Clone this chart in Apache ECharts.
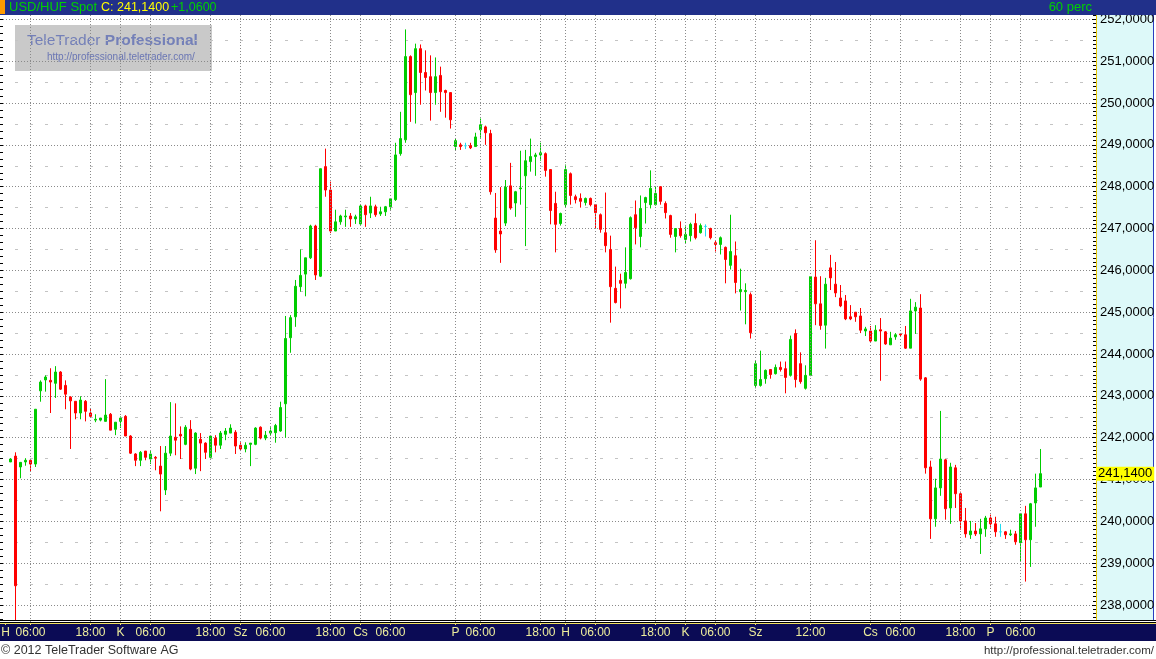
<!DOCTYPE html>
<html>
<head>
<meta charset="utf-8">
<script src="https://cdn.jsdelivr.net/npm/echarts@6/dist/echarts.min.js"></script>
<style>
html,body{margin:0;padding:0;background:#fff;}
#chart{width:1156px;height:659px;}
</style>
</head>
<body>
<div id="chart"></div>
<script>
// ---- data (hourly candles, USD/HUF) ----
const openVals = [
241.42,241.56,241.30,241.42,241.46,241.37,243.12,243.38,243.37,243.30,
243.57,243.25,242.97,242.87,242.59,242.87,242.59,242.42,242.42,242.39,
242.56,242.20,242.39,242.51,242.04,241.61,241.46,241.68,241.49,241.53,
241.32,240.75,241.63,242.01,242.08,241.84,242.20,241.27,241.96,241.87,
241.53,241.99,241.82,242.08,242.11,242.13,241.82,241.73,241.84,241.84,
242.25,241.99,242.11,242.12,242.16,242.81,244.39,244.89,245.61,245.91,
246.30,247.06,245.86,248.48,247.92,246.94,247.16,247.28,247.30,247.23,
247.11,247.54,247.37,247.52,247.35,247.40,247.52,247.69,248.79,249.12,
251.11,250.25,251.30,250.73,250.63,250.25,250.66,250.30,250.25,248.96,
249.00,248.98,248.98,248.96,249.36,249.43,249.27,247.25,246.94,247.13,
248.02,247.61,247.95,248.26,248.60,248.72,248.76,248.79,248.41,247.60,
247.12,247.57,248.31,247.76,247.72,247.62,247.72,247.57,247.33,246.90,
246.50,245.57,245.76,245.69,245.80,247.33,246.81,247.62,247.57,247.57,
248.00,247.60,247.31,246.81,247.00,246.74,246.83,247.12,246.90,247.05,
247.00,246.66,246.62,246.55,246.12,246.35,245.49,245.49,245.42,243.25,
243.25,243.41,243.63,243.53,243.68,243.65,243.49,244.49,243.77,243.18,
243.49,245.84,245.20,244.69,246.06,245.67,245.34,245.27,244.89,245.00,
244.91,244.55,244.55,244.31,244.58,244.53,244.22,244.41,244.48,244.46,
244.14,245.03,245.10,243.43,241.30,240.06,240.80,241.47,240.32,241.28,
240.66,240.01,239.68,239.77,239.70,239.82,240.08,239.94,239.75,239.75,
239.68,239.70,239.49,240.18,239.56,240.44,240.82
];
const closeVals = [
241.49,238.46,241.41,241.46,241.37,242.68,243.33,243.45,243.33,243.57,
243.16,243.04,242.88,242.59,242.90,242.63,242.51,242.44,242.47,242.54,
242.18,242.37,242.47,242.04,241.63,241.46,241.65,241.53,241.61,241.51,
241.13,241.63,242.04,241.94,242.04,242.25,241.25,242.11,241.87,241.65,
242.04,241.82,242.11,242.16,242.23,241.80,241.73,241.82,241.87,242.23,
241.99,242.06,242.16,242.29,242.72,244.37,244.87,245.62,245.88,246.30,
247.06,245.89,248.43,247.92,246.94,247.16,247.30,247.30,247.23,247.28,
247.54,247.33,247.54,247.33,247.40,247.52,247.71,248.76,249.15,251.11,
250.20,251.30,250.73,250.61,250.25,250.63,250.27,250.25,249.60,249.10,
248.96,248.98,248.93,249.19,249.48,249.29,247.88,246.49,246.87,247.99,
247.49,247.88,247.97,248.62,248.72,248.76,248.81,248.39,247.43,247.10,
247.36,248.41,247.79,247.69,247.65,247.72,247.57,247.38,246.98,246.59,
245.61,245.23,245.69,245.95,247.26,247.02,247.48,247.74,247.96,247.84,
247.65,247.38,246.86,247.00,246.83,246.86,247.10,246.78,247.07,247.05,
246.78,246.62,246.78,246.26,246.45,245.71,245.54,245.52,244.51,243.77,
243.39,243.61,243.51,243.68,243.63,243.44,244.35,243.39,243.34,243.49,
245.85,245.20,244.68,245.67,245.82,245.46,245.15,244.84,244.84,244.89,
244.57,244.60,244.31,244.57,244.55,244.24,244.38,244.46,244.46,244.14,
245.03,245.12,243.40,241.28,240.06,240.80,241.49,240.30,241.30,240.66,
240.01,239.70,239.77,239.70,239.82,240.08,239.94,239.75,239.75,239.68,
239.70,239.51,240.18,239.56,240.42,240.80,241.14
];
const lowVals = [
241.42,237.55,241.03,241.33,241.20,241.30,242.86,243.10,242.59,242.95,
243.14,242.68,241.73,242.44,242.44,242.39,242.49,242.37,242.39,242.39,
242.18,242.06,242.23,242.04,241.61,241.32,241.32,241.46,241.37,241.22,
240.24,240.63,241.56,241.58,241.49,241.82,241.22,241.13,241.20,241.49,
241.51,241.65,241.73,241.94,242.11,241.61,241.68,241.65,241.32,241.82,
241.96,241.94,242.04,241.88,242.14,242.00,244.03,244.65,245.49,245.38,
246.27,245.77,245.84,247.76,246.89,246.94,247.09,247.04,247.04,247.11,
247.09,247.04,247.25,247.28,247.30,247.30,247.45,247.66,248.74,249.05,
249.55,249.51,249.96,250.30,249.58,249.96,249.79,249.65,249.39,248.86,
248.88,248.90,248.90,248.96,249.17,249.00,247.81,246.42,246.18,247.06,
247.45,247.28,247.57,246.58,248.36,248.26,248.62,248.24,247.10,246.43,
247.07,247.50,247.57,247.60,247.50,247.55,247.53,247.00,246.90,246.43,
244.75,245.21,245.09,245.57,245.78,246.62,246.55,247.12,247.48,247.55,
247.57,247.24,246.78,246.43,246.78,246.64,246.69,246.74,246.88,246.81,
246.74,246.45,246.38,245.69,246.02,245.45,245.04,244.71,244.37,243.18,
243.22,243.29,243.41,243.51,243.58,243.06,243.46,243.20,243.29,243.15,
243.47,244.69,244.58,244.13,245.53,245.36,245.12,244.81,244.81,244.77,
244.50,244.43,244.29,244.31,243.36,244.22,244.22,244.34,244.41,244.12,
244.14,244.48,243.36,241.14,239.58,239.87,240.61,240.04,239.94,240.32,
239.80,239.61,239.58,239.65,239.22,239.63,239.85,239.63,239.63,239.58,
239.65,239.44,239.03,238.56,238.91,239.87,240.82
];
const highVals = [
241.51,241.65,241.41,241.51,241.46,242.68,243.37,243.49,243.66,243.71,
243.59,243.37,242.99,242.87,242.99,242.90,242.71,242.56,242.47,243.40,
242.59,242.37,242.51,242.54,242.06,241.63,241.68,241.68,241.68,241.56,
241.80,241.80,242.85,242.82,242.27,242.30,242.42,242.13,242.11,241.89,
242.04,242.06,242.16,242.23,242.32,242.18,241.89,241.89,241.87,242.25,
242.27,242.16,242.25,242.33,242.86,244.91,244.93,245.77,246.50,246.30,
247.09,247.09,248.43,248.91,248.12,247.45,247.33,247.45,247.37,247.33,
247.57,247.57,247.76,247.57,247.52,247.54,247.71,249.05,249.79,251.76,
251.14,251.42,251.40,251.26,251.14,251.09,250.87,250.32,250.25,249.15,
249.05,249.05,249.05,249.29,249.63,249.46,249.36,247.85,247.99,248.16,
248.57,247.90,248.86,248.88,249.15,248.81,249.05,248.82,248.41,247.88,
247.38,248.53,248.34,247.81,247.84,247.74,247.74,247.57,247.36,247.86,
246.83,246.09,245.92,246.55,247.29,247.67,247.79,247.76,248.39,248.00,
248.00,247.65,247.33,247.00,247.17,247.05,247.14,247.36,247.12,247.10,
247.02,246.71,246.81,246.57,247.33,246.69,246.04,245.69,245.47,243.84,
244.08,243.63,243.63,243.75,243.82,243.82,244.44,244.59,244.04,243.73,
245.85,246.72,245.86,245.82,246.37,246.20,245.65,245.41,245.17,245.00,
245.10,244.65,244.67,244.69,244.86,244.55,244.53,244.50,244.50,244.67,
245.32,245.24,245.43,243.45,241.45,241.02,242.64,241.49,241.40,241.35,
240.71,240.32,240.01,239.96,240.06,240.13,240.16,240.11,239.94,239.77,
239.80,239.77,240.18,240.37,240.44,241.14,241.73
];
// x-axis tick labels: candle index -> label ("H" sits on the leading empty slot, index -1)
const tickIndex = [-1, 4, 16, 22, 28, 40, 46, 52, 64, 70, 76, 89, 94, 106, 111, 117, 129, 135, 141, 149, 160, 172, 178, 190, 196, 202];
const tickText  = ['H','06:00','18:00','K','06:00','18:00','Sz','06:00','18:00','Cs','06:00','P','06:00','18:00','H','06:00','18:00','K','06:00','Sz','12:00','Cs','06:00','18:00','P','06:00'];
const yTicks = [238,239,240,241,242,243,244,245,246,247,248,249,250,251,252];
const headerTitle = 'USD/HUF Spot';
const headerClose = 'C: 241,1400';
const headerChange = '+1,0600';
const headerPeriod = '60 perc';

// ---- build ----
const LEAD = 1, TRAIL = 10;
const nCandles = openVals.length;
const nCat = LEAD + nCandles + TRAIL;
const categories = [];
for (let j = 0; j < nCat; j++) categories.push('');
tickIndex.forEach((k, i) => { categories[k + LEAD] = tickText[i]; });

const UP = '#00cc00', DOWN = '#ff0000', DOJI = '#22dcf0';
const candleData = [];
for (let k = 0; k < nCandles; k++) {
  const item = { value: [k + LEAD, openVals[k], closeVals[k], lowVals[k], highVals[k]] };
  if (openVals[k] === closeVals[k]) {
    item.itemStyle = { color: DOJI, color0: DOJI, borderColor: DOJI, borderColor0: DOJI, borderColorDoji: DOJI };
  }
  candleData.push(item);
}
const lastClose = closeVals[nCandles - 1];
const fmt = v => v.toFixed(4).replace('.', ',');

const FONT = "'Liberation Sans', Arial, sans-serif";
const V_PX = 41.83;                  // px per unit
const Y238 = 605;                    // pixel of 238
const gTop = Y238 - (253 - 238) * V_PX;
const gBottom = 659 - (Y238 + (238 - 237) * V_PX);

const chart = echarts.init(document.getElementById('chart'), null, { renderer: 'canvas' });
chart.setOption({
  animation: false,
  backgroundColor: '#ffffff',
  grid: [
    { left: 3, right: 63, top: gTop, bottom: gBottom, outerBoundsMode: 'none', containLabel: false },
    { left: 5.5, right: 65.5, top: 15, bottom: 36, outerBoundsMode: 'none', containLabel: false }
  ],
  xAxis: [
    { type: 'category', gridIndex: 0, data: categories, boundaryGap: true, show: false },
    {
      type: 'category', gridIndex: 1, data: categories, boundaryGap: false, z: 200,
      axisLine: { show: false },
      axisTick: { show: true, length: 2, interval: (i, v) => v !== '', lineStyle: { color: '#f0e070' } },
      axisLabel: { show: true, interval: (i, v) => v !== '', color: '#eeee9c', fontFamily: FONT, fontSize: 12, margin: 4 },
      splitLine: { show: true, interval: (i, v) => v !== '' && i > 0, lineStyle: { color: '#8a8a8a', type: [1, 2], width: 1 } }
    }
  ],
  yAxis: [
    {
      type: 'value', gridIndex: 0, position: 'right', min: 237, max: 253, interval: 1, offset: 3,
      axisLine: { show: true, lineStyle: { color: '#e8c400', width: 1 } },
      axisTick: { show: true, inside: true, length: 4, lineStyle: { color: '#000' } },
      minorTick: { show: true, splitNumber: 10, length: 3, lineStyle: { color: '#000' } },
      axisLabel: { show: true, color: '#000', fontFamily: FONT, fontSize: 13, margin: 4,
        padding: [3, 0, 0, 0],
        formatter: v => (yTicks.indexOf(v) >= 0 ? fmt(v) : '') },
      splitLine: { show: true, lineStyle: { color: '#8a8a8a', type: [1, 2], width: 1 } }
    },
    {
      type: 'value', gridIndex: 0, position: 'left', min: 237, max: 253, interval: 1,
      axisLine: { show: false },
      axisTick: { show: true, length: 4, lineStyle: { color: '#000' } },
      minorTick: { show: true, splitNumber: 6, length: 3, lineStyle: { color: '#000' } },
      axisLabel: { show: false },
      splitLine: { show: false }
    },
    {
      type: 'value', gridIndex: 0, position: 'right', min: 237, max: 253, interval: 1,
      axisLine: { show: false }, axisTick: { show: false }, axisLabel: { show: false },
      splitLine: { show: false },
      minorTick: { show: false, splitNumber: 2 },
      minorSplitLine: { show: true, lineStyle: { color: '#c4c4c4', type: [3, 12], dashOffset: 3, width: 1 } }
    },
    { type: 'value', gridIndex: 1, show: false }
  ],
  series: [{
    type: 'candlestick',
    xAxisIndex: 0, yAxisIndex: 0,
    barWidth: 3,
    encode: { x: 0, y: [1, 2, 3, 4] },
    data: candleData,
    itemStyle: { color: UP, color0: DOWN, borderColor: UP, borderColor0: DOWN, borderColorDoji: DOJI, borderWidth: 1 },
    markLine: {
      silent: true, symbol: 'none',
      lineStyle: { color: 'rgba(0,0,0,0)', width: 0 },
      label: { show: true, position: 'end', distance: 3, formatter: () => fmt(lastClose),
        backgroundColor: '#ffff00', color: '#000', fontFamily: FONT, fontSize: 13, padding: [1, 2, 0, 2] },
      data: [{ yAxis: lastClose }]
    }
  }],
  graphic: { elements: [
    // right axis panel
    { type: 'rect', z: -1, shape: { x: 1096, y: 15, width: 57, height: 605 }, style: { fill: '#ddf9f9' } },
    { type: 'line', z: -1, shape: { x1: 1153.5, y1: 15, x2: 1153.5, y2: 620 }, style: { stroke: '#2a3cc0', lineWidth: 1 } },
    // watermark logo
    { type: 'rect', z: -1, shape: { x: 15, y: 25, width: 197, height: 46 }, style: { fill: '#c9c9c9' } },
    { type: 'text', z: -1, x: 27, y: 41, style: {
        text: '{a|TeleTrader} {b|Professional}', verticalAlign: 'middle', textVerticalAlign: 'middle',
        rich: { a: { fontFamily: FONT, fontSize: 15.5, color: '#7480b8', fill: '#7480b8' },
                b: { fontFamily: FONT, fontSize: 15.5, fontWeight: 'bold', color: '#7480b8', fill: '#7480b8' } },
        font: '15.5px ' + FONT, fill: '#7480b8' } },
    { type: 'text', z: -1, x: 47, y: 57.5, style: { text: 'http://professional.teletrader.com/', font: '10px ' + FONT,
        fill: '#6a76b4', verticalAlign: 'middle', textVerticalAlign: 'middle' } },
    // top bar
    { type: 'rect', z: 100, shape: { x: 0, y: 0, width: 1156, height: 15 }, style: { fill: '#21308a' } },
    { type: 'rect', z: 101, shape: { x: 0, y: 0, width: 5, height: 14 }, style: { fill: '#ff9a00' } },
    { type: 'text', z: 101, x: 9, y: 7.5, style: { text: headerTitle, font: '13px ' + FONT, fill: '#00d000', verticalAlign: 'middle', textVerticalAlign: 'middle' } },
    { type: 'text', z: 101, x: 101, y: 7.5, style: { text: headerClose, font: '12.5px ' + FONT, fill: '#ffff00', verticalAlign: 'middle', textVerticalAlign: 'middle' } },
    { type: 'text', z: 101, x: 171, y: 7.5, style: { text: headerChange, font: '12.5px ' + FONT, fill: '#00d000', verticalAlign: 'middle', textVerticalAlign: 'middle' } },
    { type: 'text', z: 101, x: 1092, y: 7.5, style: { text: headerPeriod, font: '13px ' + FONT, fill: '#00d000', align: 'right', textAlign: 'right', verticalAlign: 'middle', textVerticalAlign: 'middle' } },
    // bottom lines and bar
    { type: 'rect', z: 100, shape: { x: 0, y: 620, width: 1156, height: 4 }, style: { fill: '#ffffff' } },
    { type: 'line', z: 101, shape: { x1: 0, y1: 620.5, x2: 1156, y2: 620.5 }, style: { stroke: '#000', lineWidth: 1 } },
    { type: 'line', z: 101, shape: { x1: 0, y1: 622.5, x2: 1156, y2: 622.5 }, style: { stroke: '#000', lineWidth: 1 } },
    { type: 'line', z: 101, shape: { x1: 0, y1: 623.5, x2: 1156, y2: 623.5 }, style: { stroke: '#f0e060', lineWidth: 1 } },
    { type: 'rect', z: 100, shape: { x: 0, y: 624, width: 1156, height: 17 }, style: { fill: '#0b0b55' } },
    // footer
    { type: 'rect', z: 100, shape: { x: 0, y: 641, width: 1156, height: 18 }, style: { fill: '#ffffff' } },
    { type: 'text', z: 101, x: 1, y: 650.5, style: { text: '\u00a9 2012 TeleTrader Software AG', font: '12.5px ' + FONT, fill: '#333333', verticalAlign: 'middle', textVerticalAlign: 'middle' } },
    { type: 'text', z: 101, x: 1154, y: 650.5, style: { text: 'http://professional.teletrader.com/', font: '11.5px ' + FONT, fill: '#333333', align: 'right', textAlign: 'right', verticalAlign: 'middle', textVerticalAlign: 'middle' } }
  ] }
});
</script>
</body>
</html>
